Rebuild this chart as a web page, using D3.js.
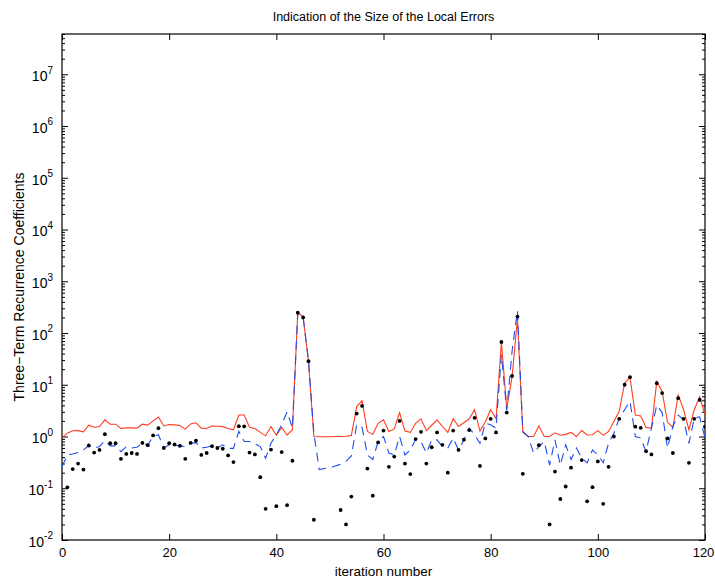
<!DOCTYPE html>
<html>
<head>
<meta charset="utf-8">
<script src="https://cdn.jsdelivr.net/npm/d3@7"></script>
<style>
  body { margin: 0; background: #fff; }
  svg { font-family: "Liberation Sans", Arial, Helvetica, sans-serif; }
</style>
</head>
<body>
<svg id="chart" width="715" height="581"></svg>
<script>
// iteration numbers 0..120
var iterations = d3.range(0, 121);

// red solid line
var upperBound = [
  0.95, 1.16, 1.29, 1.3, 1.23, 1.66, 1.51, 1.56, 2.1, 1.73,
  1.73, 1.43, 1.47, 1.47, 1.45, 1.73, 1.66, 2.0, 2.38, 1.6,
  1.7, 1.68, 1.63, 1.39, 1.75, 1.84, 1.45, 1.43, 1.6, 1.58,
  1.55, 1.43, 1.35, 2.6, 2.6, 1.5, 1.43, 1.2, 1.03, 1.56,
  1.06, 1.5, 1.06, 1.35, 247, 208, 28, 1.0, 0.99, 0.99,
  0.99, 1.0, 1.0, 1.01, 1.05, 3.8, 4.9, 1.25, 1.1, 1.8,
  2.1, 1.25, 1.4, 2.9, 1.27, 1.2, 1.8, 2.2, 1.3, 1.65,
  2.1, 1.56, 1.2, 2.2, 1.56, 1.85, 2.2, 3.3, 1.27, 1.9,
  3.3, 2.2, 66, 3.5, 14.4, 193, 1.2, 1.0, 1.0, 1.6,
  1.0, 1.0, 1.18, 1.06, 1.1, 1.2, 1.0, 1.3, 1.07, 1.08,
  1.3, 1.05, 1.25, 1.95, 3.1, 10.7, 14, 2.6, 2.5, 1.5,
  1.45, 11.5, 7.4, 1.9, 1.5, 6.3, 3.3, 1.35, 3.3, 5.9,
  2.6
];

// blue dashed line
var estimate = [
  0.26, 0.44, 0.46, 0.49, 0.55, 0.67, 0.6, 0.64, 0.83, 0.66,
  0.66, 0.51, 0.64, 0.6, 0.62, 0.74, 0.69, 1.0, 1.08, 0.6,
  0.69, 0.68, 0.66, 0.64, 0.74, 0.76, 0.6, 0.62, 0.66, 0.6,
  0.69, 0.59, 0.59, 1.25, 0.8, 0.8, 0.72, 0.64, 0.38, 0.74,
  1.08, 1.68, 3.0, 1.45, 247, 200, 30, 1.16, 0.23, 0.24,
  0.25, 0.27, 0.29, 0.33, 0.42, 1.7, 1.5, 0.44, 0.36, 0.8,
  1.0, 0.48, 0.44, 1.0, 0.44, 0.55, 0.89, 0.8, 0.48, 0.86,
  0.86, 0.64, 0.6, 0.93, 0.55, 0.86, 1.45, 1.08, 0.74, 1.81,
  1.68, 1.45, 38, 3.2, 45, 270, 1.25, 1.0, 0.48, 0.64,
  0.8, 0.28, 0.86, 0.28, 0.69, 0.36, 0.6, 0.38, 0.31, 0.55,
  0.44, 0.31, 0.74, 1.16, 2.26, 3.3, 4.8, 1.0, 0.93, 0.51,
  1.45, 4.0, 2.9, 0.6, 1.56, 2.6, 2.1, 0.74, 2.26, 2.4,
  0.93
];

// black dots (null = not shown)
var localError = [
  null, 0.104, 0.235, 0.3, 0.23, 0.67, 0.49, 0.55, 1.11, 0.74,
  0.74, 0.37, 0.46, 0.48, 0.46, 0.75, 0.68, 1.05, 1.45, 0.6,
  0.74, 0.7, 0.66, 0.37, 0.75, 0.83, 0.44, 0.48, 0.65, 0.6,
  0.58, 0.43, 0.32, 1.58, 1.57, 0.49, 0.45, 0.164, 0.04, 0.56,
  0.045, 0.5, 0.047, 0.34, 247, 200, 28.5, 0.0246, null, null,
  null, null, 0.038, 0.02, 0.069, 2.78, 3.9, 0.24, 0.072, 0.77,
  1.3, 0.26, 0.41, 2.0, 0.3, 0.188, 0.89, 1.23, 0.3, 0.62,
  1.2, 0.69, 0.2, 1.3, 0.55, 0.87, 1.33, 2.3, 0.27, 0.92,
  2.2, 1.2, 67, 2.9, 14.8, 208, 0.19, null, null, 0.68,
  null, 0.02, 0.21, 0.062, 0.108, 0.25, null, 0.35, 0.056, 0.105,
  0.33, 0.05, 0.26, 1.0, 2.2, 10, 14, 1.55, 1.47, 0.52,
  0.45, 10.7, 6.9, 0.92, 0.48, 5.5, 2.2, 0.31, 2.2, 5.1,
  1.55
];

var xTicks = [0, 20, 40, 60, 80, 100, 120];
var yTicks = [1e-2, 1e-1, 1e0, 1e1, 1e2, 1e3, 1e4, 1e5, 1e6, 1e7];

var margin = { left: 62, right: 10, top: 34, bottom: 41 };
var width = 715, height = 581;

var svg = d3.select('#chart');

var x = d3.scaleLinear()
    .domain([0, 120])
    .range([margin.left, width - margin.right]);

var y = d3.scaleLog()
    .domain([1e-2, 6e7])
    .range([height - margin.bottom, margin.top]);

// minor tick values for the log axis
var minorTicks = [];
yTicks.forEach(function(t) {
    for (var k = 2; k <= 9; k++) {
        if (t * k <= y.domain()[1]) minorTicks.push(t * k);
    }
});

function styleAxis(g) {
    g.select('.domain').remove();
    g.selectAll('.tick line').attr('stroke', '#000');
}

// minor ticks left / right
svg.append('g')
    .attr('transform', 'translate(' + margin.left + ',0)')
    .call(d3.axisLeft(y).tickValues(minorTicks).tickSize(-3).tickFormat(''))
    .call(styleAxis);
svg.append('g')
    .attr('transform', 'translate(' + (width - margin.right) + ',0)')
    .call(d3.axisRight(y).tickValues(minorTicks).tickSize(-3).tickFormat(''))
    .call(styleAxis);

// major y ticks
var yAxis = svg.append('g')
    .attr('transform', 'translate(' + margin.left + ',0)')
    .call(d3.axisLeft(y).tickValues(yTicks).tickSize(-6).tickPadding(9).tickFormat(''))
    .call(styleAxis);

yAxis.selectAll('.tick text')
    .attr('fill', '#000')
    .attr('font-size', 14)
    .attr('dy', '0.45em')
    .each(function(d) {
        var t = d3.select(this);
        var e = Math.round(Math.log10(d));
        t.append('tspan').text('10');
        t.append('tspan')
            .attr('dy', '-0.75em')
            .attr('font-size', 10)
            .text(e < 0 ? '-' + (-e) : e);
    });

svg.append('g')
    .attr('transform', 'translate(' + (width - margin.right) + ',0)')
    .call(d3.axisRight(y).tickValues(yTicks).tickSize(-6).tickFormat(''))
    .call(styleAxis);

// x ticks
svg.append('g')
    .attr('transform', 'translate(0,' + (height - margin.bottom) + ')')
    .call(d3.axisBottom(x).tickValues(xTicks).tickSize(-6).tickPadding(8))
    .call(styleAxis)
    .selectAll('.tick text')
    .attr('fill', '#000')
    .attr('font-size', 13)
    .attr('font-family', '"Liberation Sans", Arial, sans-serif')
    .attr('dx', function(d) { return d === 120 ? -2 : 0; });

svg.append('g')
    .attr('transform', 'translate(0,' + margin.top + ')')
    .call(d3.axisTop(x).tickValues(xTicks).tickSize(-6).tickFormat(''))
    .call(styleAxis);

// frame
svg.append('rect')
    .attr('x', margin.left)
    .attr('y', margin.top)
    .attr('width', width - margin.left - margin.right)
    .attr('height', height - margin.top - margin.bottom)
    .attr('fill', 'none')
    .attr('stroke', '#000')
    .attr('stroke-width', 1.2);

// clip
svg.append('clipPath').attr('id', 'plot-clip')
    .append('rect')
    .attr('x', margin.left)
    .attr('y', margin.top)
    .attr('width', width - margin.left - margin.right)
    .attr('height', height - margin.top - margin.bottom);

var plot = svg.append('g').attr('clip-path', 'url(#plot-clip)');

var line = d3.line()
    .defined(function(d) { return d[1] != null; })
    .x(function(d) { return x(d[0]); })
    .y(function(d) { return y(d[1]); })
    .curve(d3.curveLinear);

plot.append('path')
    .datum(iterations.map(function(i) { return [i, upperBound[i]]; }))
    .attr('d', line)
    .attr('fill', 'none')
    .attr('stroke', '#ff3d1f')
    .attr('stroke-width', 1.1);

plot.append('path')
    .datum(iterations.map(function(i) { return [i, estimate[i]]; }))
    .attr('d', line)
    .attr('fill', 'none')
    .attr('stroke', '#1f4cf0')
    .attr('stroke-width', 1.1)
    .attr('stroke-dasharray', '9,6');

plot.selectAll('circle.err')
    .data(iterations.filter(function(i) { return localError[i] != null; }))
    .enter().append('circle')
    .attr('class', 'err')
    .attr('cx', function(i) { return x(i); })
    .attr('cy', function(i) { return y(localError[i]); })
    .attr('r', 1.9)
    .attr('fill', '#000');

// labels
svg.append('text')
    .attr('x', (margin.left + width - margin.right) / 2)
    .attr('y', 21)
    .attr('text-anchor', 'middle')
    .attr('font-size', 12.5)
    .text('Indication of the Size of the Local Errors');

svg.append('text')
    .attr('x', (margin.left + width - margin.right) / 2)
    .attr('y', 576)
    .attr('text-anchor', 'middle')
    .attr('font-size', 13.5)
    .text('iteration number');

svg.append('text')
    .attr('transform', 'translate(24,' + ((margin.top + height - margin.bottom) / 2) + ') rotate(-90)')
    .attr('text-anchor', 'middle')
    .attr('font-size', 14)
    .text('Three\u2212Term Recurrence Coefficients');
</script>
</body>
</html>
